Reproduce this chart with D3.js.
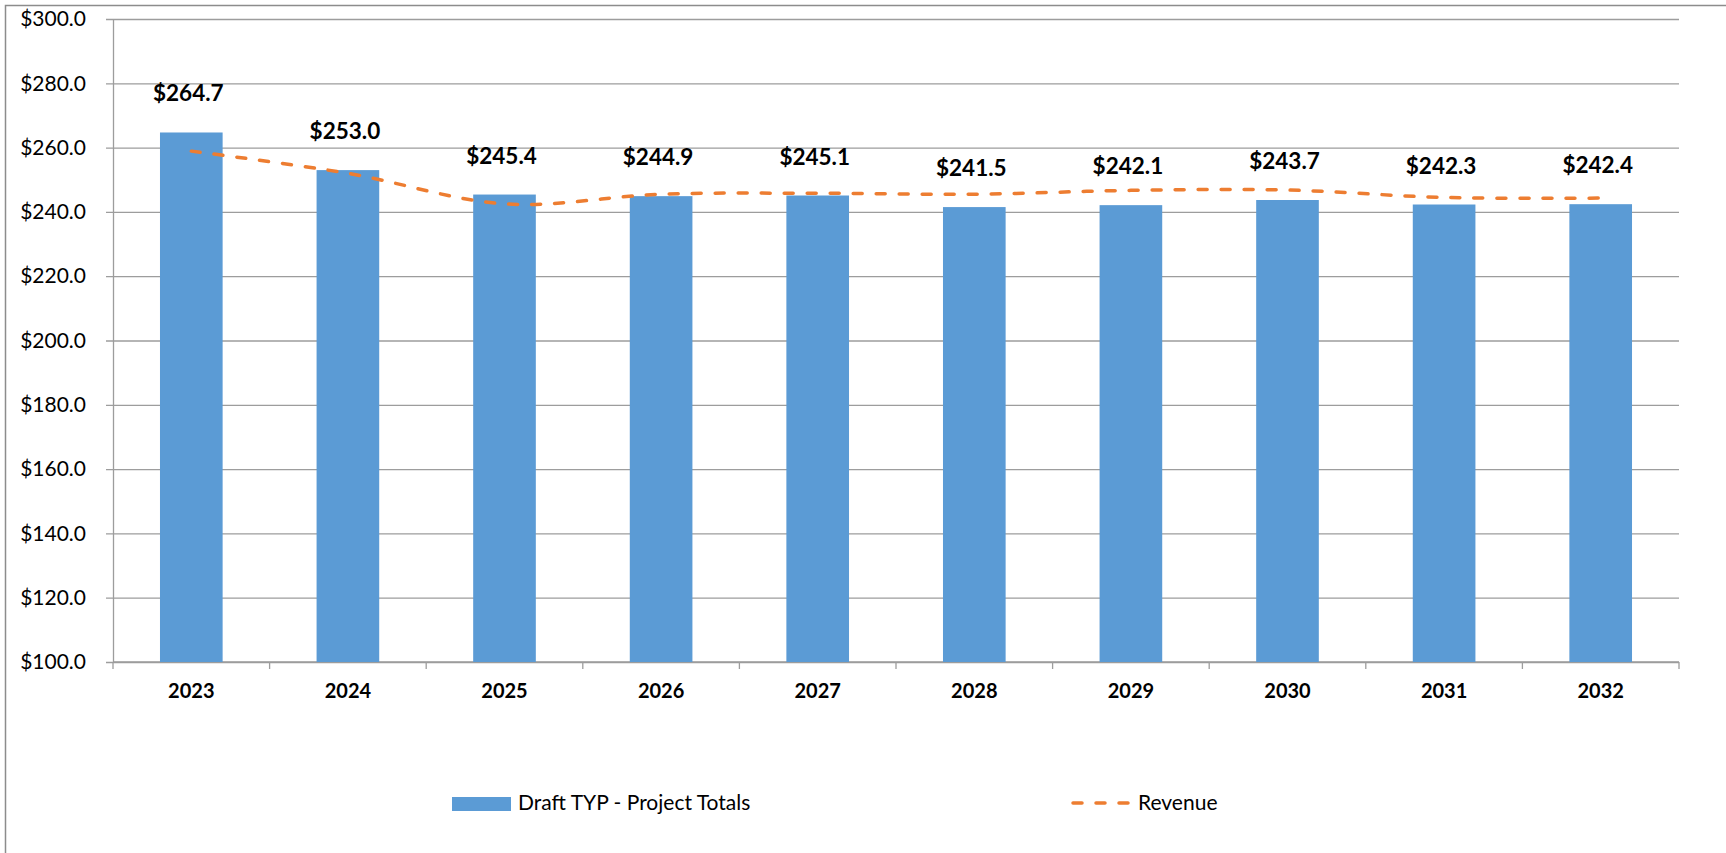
<!DOCTYPE html>
<html>
<head>
<meta charset="utf-8">
<script src="https://cdn.jsdelivr.net/npm/d3@7"></script>
<style>
  html, body { margin: 0; padding: 0; background: #fff; }
  svg { display: block; font-family: Lato, "Open Sans", sans-serif; }
</style>
</head>
<body>
<svg id="chart"></svg>
<script>
// chart data
const years = ['2023', '2024', '2025', '2026', '2027', '2028', '2029', '2030', '2031', '2032'];
const projectTotals = [264.7, 253.0, 245.4, 244.9, 245.1, 241.5, 242.1, 243.7, 242.3, 242.4];
const revenue = [258.9, 252.0, 242.5, 245.5, 245.8, 245.5, 246.7, 246.8, 244.5, 244.3];
const yTicks = [100, 120, 140, 160, 180, 200, 220, 240, 260, 280, 300];

// set up constants
const width = 1726;
const height = 853;
const margin = { top: 19, right: 47, bottom: 191, left: 113 };
const innerWidth = width - margin.left - margin.right;
const innerHeight = height - margin.top - margin.bottom;

const barColor = '#5b9bd5';
const lineColor = '#ed7d31';
const gridColor = '#9d9d9d';

const svg = d3.select('#chart')
  .attr('width', width)
  .attr('height', height);

// outer chart border (runs off the right and bottom edges)
svg.append('rect')
  .attr('x', 5.5)
  .attr('y', 5.5)
  .attr('width', width + 20)
  .attr('height', height + 20)
  .attr('fill', 'none')
  .attr('stroke', '#8c8c8c')
  .attr('stroke-width', 1.5);

// scales
const xScale = d3.scaleBand()
  .domain(years)
  .range([margin.left, margin.left + innerWidth])
  .paddingInner(0.6)
  .paddingOuter(0.3);

const yScale = d3.scaleLinear()
  .domain([100, 300])
  .range([margin.top + innerHeight, margin.top]);

const fmt = d => '$' + d3.format('.1f')(d);

// y gridlines and ticks
const yAxis = d3.axisLeft(yScale)
  .tickValues(yTicks)
  .tickSizeInner(-innerWidth)
  .tickSizeOuter(0)
  .tickPadding(27)
  .tickFormat(fmt);

const yAxisG = svg.append('g')
  .attr('transform', `translate(${margin.left}, 0)`)
  .call(yAxis);

yAxisG.select('.domain').attr('stroke', gridColor).attr('stroke-width', 1.3);
yAxisG.selectAll('.tick line')
  .attr('stroke', gridColor)
  .attr('stroke-width', 1.3)
  .attr('x1', -7);
yAxisG.selectAll('.tick text')
  .attr('fill', '#000')
  .style('font-size', '21px')
  .style('font-family', 'Lato, sans-serif');

// x axis line with category boundary ticks
const baseY = yScale(100);
const step = xScale.step();
const x0 = margin.left;
svg.append('line')
  .attr('x1', x0)
  .attr('x2', x0 + innerWidth)
  .attr('y1', baseY)
  .attr('y2', baseY)
  .attr('stroke', gridColor)
  .attr('stroke-width', 1.3);

svg.selectAll('.xtick')
  .data(d3.range(years.length + 1))
  .enter()
  .append('line')
  .attr('class', 'xtick')
  .attr('x1', i => x0 + i * step)
  .attr('x2', i => x0 + i * step)
  .attr('y1', baseY)
  .attr('y2', baseY + 7)
  .attr('stroke', gridColor)
  .attr('stroke-width', 1.3);

svg.selectAll('.xlabel')
  .data(years)
  .enter()
  .append('text')
  .attr('class', 'xlabel')
  .attr('x', d => xScale(d) + xScale.bandwidth() / 2)
  .attr('y', baseY + 36)
  .attr('text-anchor', 'middle')
  .style('font-size', '20px')
  .style('font-weight', 'bold')
  .text(d => d);

// bars
svg.selectAll('.bar')
  .data(projectTotals)
  .enter()
  .append('rect')
  .attr('class', 'bar')
  .attr('x', (d, i) => xScale(years[i]))
  .attr('y', d => yScale(d))
  .attr('width', xScale.bandwidth())
  .attr('height', d => baseY - yScale(d))
  .attr('fill', barColor);

// revenue line (smoothed, dashed)
const line = d3.line()
  .x((d, i) => xScale(years[i]) + xScale.bandwidth() / 2)
  .y(d => yScale(d))
  .curve(d3.curveCatmullRom.alpha(0.5));

svg.append('path')
  .datum(revenue)
  .attr('d', line)
  .attr('fill', 'none')
  .attr('stroke', lineColor)
  .attr('stroke-width', 3.5)
  .attr('stroke-linecap', 'round')
  .attr('stroke-dasharray', '9,14');

// data labels for bars
svg.selectAll('.barlabel')
  .data(projectTotals)
  .enter()
  .append('text')
  .attr('class', 'barlabel')
  .attr('x', (d, i) => xScale(years[i]) + xScale.bandwidth() / 2 - 3)
  .attr('y', d => yScale(d) - 31)
  .attr('text-anchor', 'middle')
  .style('font-size', '22.5px')
  .style('font-weight', 'bold')
  .text(fmt);

// legend
const legendY = 803;
svg.append('rect')
  .attr('x', 452)
  .attr('y', legendY - 6)
  .attr('width', 59)
  .attr('height', 14)
  .attr('fill', barColor);

svg.append('text')
  .attr('x', 518)
  .attr('y', legendY + 7)
  .style('font-size', '21px')
  .text('Draft TYP - Project Totals');

svg.append('line')
  .attr('x1', 1073)
  .attr('x2', 1129)
  .attr('y1', legendY)
  .attr('y2', legendY)
  .attr('stroke', lineColor)
  .attr('stroke-width', 3.5)
  .attr('stroke-linecap', 'round')
  .attr('stroke-dasharray', '9,14');

svg.append('text')
  .attr('x', 1138)
  .attr('y', legendY + 7)
  .style('font-size', '21px')
  .text('Revenue');
</script>
</body>
</html>
